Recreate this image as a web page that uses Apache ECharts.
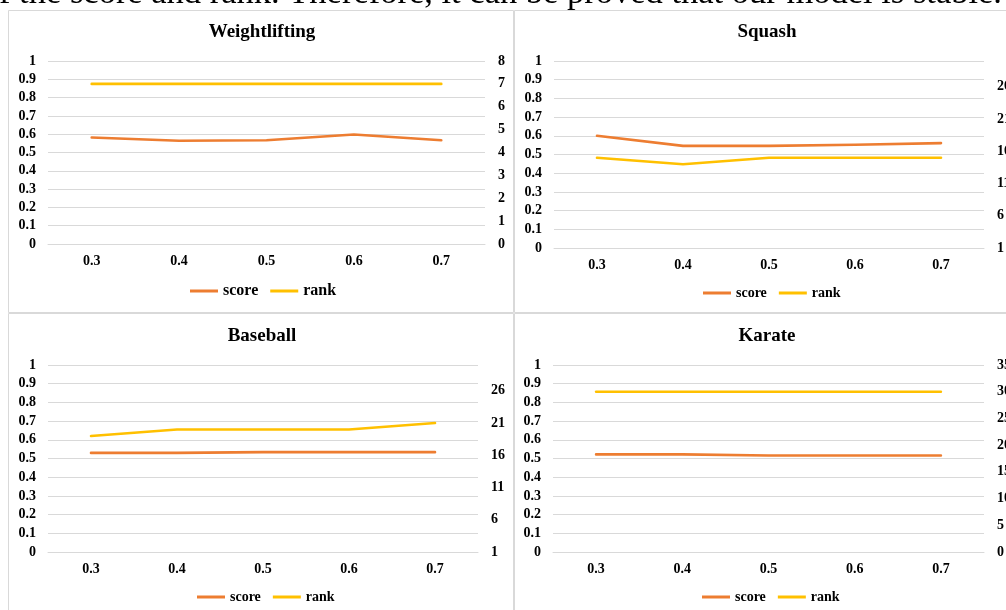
<!DOCTYPE html>
<html><head><meta charset="utf-8">
<script src="https://cdn.jsdelivr.net/npm/echarts@6/dist/echarts.min.js"></script>
<style>html,body{margin:0;padding:0;background:#fff;overflow:hidden}#c{width:1006px;height:610px}</style>
</head><body><div id="c"></div>
<script>
// ---------- data ----------
const topLine = 'f the score and rank. Therefore, it can be proved that our model is stable.';
const xCategories = ['0.3', '0.4', '0.5', '0.6', '0.7'];
const panelTitles = ['Weightlifting', 'Squash', 'Baseball', 'Karate'];
const seriesNames = ['score', 'rank'];

const weightliftingScore = [0.582, 0.564, 0.567, 0.598, 0.567];
const weightliftingRank = [7, 7, 7, 7, 7];
const squashScore = [0.600, 0.546, 0.546, 0.552, 0.561];
const squashRank = [15, 14, 15, 15, 15];
const baseballScore = [0.530, 0.530, 0.534, 0.534, 0.534];
const baseballRank = [19, 20, 20, 20, 21];
const karateScore = [0.522, 0.522, 0.516, 0.516, 0.516];
const karateRank = [30, 30, 30, 30, 30];

const scoreAxisRange = [0, 1];
const scoreAxisStep = 0.1;
const weightliftingRankTicks = [0, 1, 2, 3, 4, 5, 6, 7, 8];
const squashRankTicks = [1, 6, 11, 16, 21, 26];
const baseballRankTicks = [1, 6, 11, 16, 21, 26];
const karateRankTicks = [0, 5, 10, 15, 20, 25, 30, 35];
const rankAxisMax = [8, 30, 30, 35];

// ---------- build ----------
const scores = [weightliftingScore, squashScore, baseballScore, karateScore];
const ranks = [weightliftingRank, squashRank, baseballRank, karateRank];
const rankTicks = [weightliftingRankTicks, squashRankTicks, baseballRankTicks, karateRankTicks];

const FONT = '"Liberation Serif", "Times New Roman", serif';
const GRID_COLOR = '#d9d9d9';
const SCORE_COLOR = '#ED7D31';
const RANK_COLOR = '#FFC000';

const layouts = [
  { grid: { left: 48, top: 61, width: 437, height: 183 }, titleX: 262, titleY: 23, legend: { left: 190, top: 283, fs: 16 } },
  { grid: { left: 554, top: 61, width: 430, height: 187 }, titleX: 767, titleY: 23, legend: { left: 703, top: 286, fs: 14 } },
  { grid: { left: 48, top: 365, width: 430, height: 187 }, titleX: 262, titleY: 327, legend: { left: 197, top: 590, fs: 14 } },
  { grid: { left: 553, top: 365, width: 431, height: 187 }, titleX: 767, titleY: 327, legend: { left: 702, top: 590, fs: 14 } }
];

const labelStyle = { color: '#000', fontFamily: FONT, fontWeight: 'bold', fontSize: 14 };

const grid = [], xAxis = [], yAxis = [], series = [], title = [], legend = [];
layouts.forEach((L, i) => {
  grid.push(Object.assign({ containLabel: false, outerBoundsMode: 'none' }, L.grid));
  title.push({
    text: panelTitles[i], left: L.titleX, top: L.titleY, textAlign: 'center', padding: 0,
    textStyle: { fontFamily: FONT, fontWeight: 'bold', fontSize: 19, color: '#000' }
  });
  legend.push({
    data: seriesNames, left: L.legend.left, top: L.legend.top, padding: 0,
    itemWidth: 28, itemHeight: 3, itemGap: 12, icon: 'rect', selectedMode: false,
    textStyle: { fontFamily: FONT, fontWeight: 'bold', fontSize: L.legend.fs, color: '#000' }
  });
  xAxis.push({
    type: 'category', gridIndex: i, data: xCategories, boundaryGap: true,
    axisLine: { show: true, lineStyle: { color: GRID_COLOR, width: 1 } },
    axisTick: { show: false },
    axisLabel: Object.assign({ margin: 10 }, labelStyle)
  });
  yAxis.push({
    type: 'value', gridIndex: i, position: 'left',
    min: scoreAxisRange[0], max: scoreAxisRange[1], interval: scoreAxisStep,
    axisLine: { show: false }, axisTick: { show: false },
    splitLine: { show: true, lineStyle: { color: GRID_COLOR, width: 1 } },
    axisLabel: Object.assign({ margin: 12 }, labelStyle)
  });
  yAxis.push({
    type: 'value', gridIndex: i, position: 'right',
    min: rankTicks[i][0], max: rankAxisMax[i],
    axisLine: { show: false }, axisTick: { show: false },
    splitLine: { show: false },
    axisLabel: Object.assign({ margin: 13, customValues: rankTicks[i], showMinLabel: true, showMaxLabel: true }, labelStyle)
  });
  series.push({
    name: seriesNames[0], type: 'line', xAxisIndex: i, yAxisIndex: 2 * i, data: scores[i],
    showSymbol: false, symbol: 'none', color: SCORE_COLOR,
    lineStyle: { color: SCORE_COLOR, width: 2.6, cap: 'round', join: 'round' }
  });
  series.push({
    name: seriesNames[1], type: 'line', xAxisIndex: i, yAxisIndex: 2 * i + 1, data: ranks[i],
    showSymbol: false, symbol: 'none', color: RANK_COLOR,
    lineStyle: { color: RANK_COLOR, width: 2.6, cap: 'round', join: 'round' }
  });
});

const borderStyle = { fill: 'none', stroke: GRID_COLOR, lineWidth: 1 };
const graphic = [
  { type: 'rect', shape: { x: 8.5, y: 10.5, width: 505, height: 302 }, style: borderStyle, z: -1 },
  { type: 'rect', shape: { x: 514.5, y: 10.5, width: 540, height: 302 }, style: borderStyle, z: -1 },
  { type: 'rect', shape: { x: 8.5, y: 313.5, width: 505, height: 330 }, style: borderStyle, z: -1 },
  { type: 'rect', shape: { x: 514.5, y: 313.5, width: 540, height: 330 }, style: borderStyle, z: -1 },
  { type: 'text', x: -1, y: 11, style: { text: topLine, font: '34.5px ' + FONT, fill: '#000', verticalAlign: 'bottom', align: 'left' } }
];

const chart = echarts.init(document.getElementById('c'), null, { renderer: 'canvas' });
chart.setOption({
  animation: false, backgroundColor: '#fff',
  title, legend, grid, xAxis, yAxis, series, graphic
});
</script></body></html>
